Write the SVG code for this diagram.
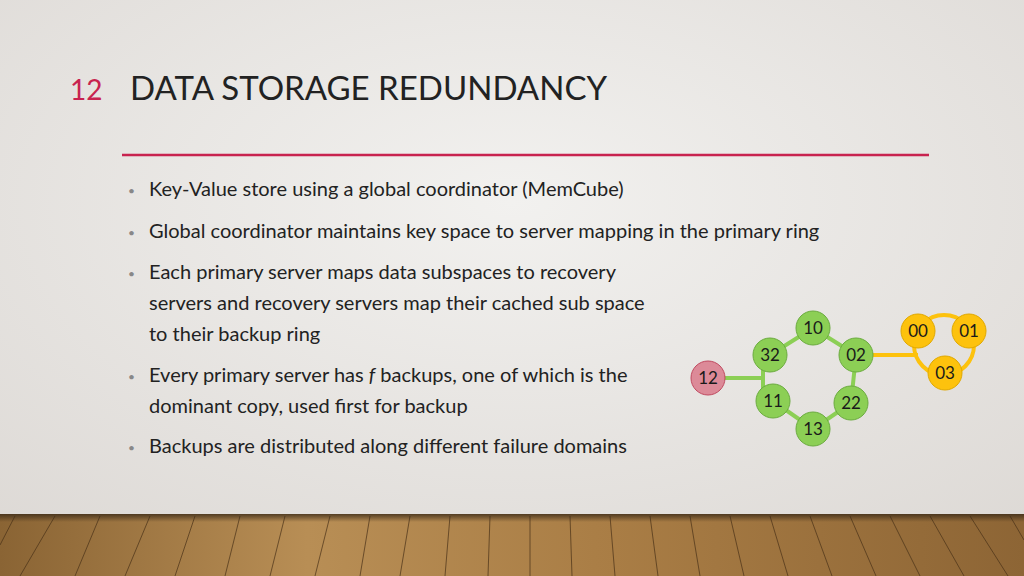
<svg xmlns="http://www.w3.org/2000/svg" width="1024" height="576" viewBox="0 0 1024 576">
<defs>
<radialGradient id="bg" cx="0.5" cy="0.35" r="0.8"><stop offset="0" stop-color="#f2f1ef"/><stop offset="1" stop-color="#dcd8d4"/></radialGradient>
<linearGradient id="wood" x1="0" y1="0" x2="1" y2="0"><stop offset="0" stop-color="#8a6434"/><stop offset="0.3" stop-color="#b88e55"/><stop offset="0.6" stop-color="#a97d45"/><stop offset="1" stop-color="#8d6535"/></linearGradient>
<linearGradient id="sh" x1="0" y1="0" x2="0" y2="1"><stop offset="0" stop-color="#3a2a18" stop-opacity="0.8"/><stop offset="1" stop-color="#3a2a18" stop-opacity="0"/></linearGradient>
<style>
.t{font-family:"Gill Sans","Lato","Liberation Sans",sans-serif;fill:#222}
.b{font-size:20px}
.bul{fill:#888;font-size:12px}
.g{fill:#8ccf55;stroke:#6bab3f;stroke-width:1}
.y{fill:#fdc20d;stroke:#e0a800;stroke-width:1}
.p{fill:#dc8a98;stroke:#c04a60;stroke-width:1}
.n{font-family:"Lato","Liberation Sans",sans-serif;font-size:17px;fill:#1a1a1a;text-anchor:middle}
.gl{stroke:#8ccf55;stroke-width:4;fill:none}
.yl{stroke:#fdc20d;stroke-width:4;fill:none}
</style>
</defs>
<rect width="1024" height="576" fill="url(#bg)"/>
<rect y="514" width="1024" height="62" fill="url(#wood)"/>
<g stroke="#4a3218" stroke-width="1" opacity="0.7">
<path d="M15 516 L0 545 M55 516 L20 576 M100 516 L75 576 M150 516 L125 576 M195 516 L175 576 M240 516 L225 576 M285 516 L270 576 M330 516 L315 576 M370 516 L360 576 M410 516 L400 576 M450 516 L445 576 M490 516 L488 576 M530 516 L530 576 M570 516 L572 576 M610 516 L615 576 M650 516 L658 576 M690 516 L700 576 M730 516 L744 576 M770 516 L788 576 M810 516 L832 576 M850 516 L876 576 M890 516 L920 576 M930 516 L964 576 M970 516 L1008 576 M1010 516 L1024 540"/>
</g>
<rect y="514" width="1024" height="8" fill="url(#sh)"/>
<text class="t" x="70" y="100" font-size="28" style="fill:#c8234f">12</text>
<text class="t" x="130" y="100" font-size="33">DATA STORAGE REDUNDANCY</text>
<line x1="122" y1="155" x2="929" y2="155" stroke="#c8234f" stroke-width="2.5"/>
<g>
<text x="128" y="195" class="t bul">•</text><text x="149" y="196" class="t b">Key-Value store using a global coordinator (MemCube)</text>
<text x="128" y="237" class="t bul">•</text><text x="149" y="238" class="t b">Global coordinator maintains key space to server mapping in the primary ring</text>
<text x="128" y="278" class="t bul">•</text><text x="149" y="279" class="t b">Each primary server maps data subspaces to recovery</text>
<text x="149" y="310" class="t b">servers and recovery servers map their cached sub space</text>
<text x="149" y="341" class="t b">to their backup ring</text>
<text x="128" y="381" class="t bul">•</text><text x="149" y="382" class="t b">Every primary server has <tspan font-style="italic">f</tspan> backups, one of which is the</text>
<text x="149" y="413" class="t b">dominant copy, used first for backup</text>
<text x="128" y="452" class="t bul">•</text><text x="149" y="453" class="t b">Backups are distributed along different failure domains</text>
</g>
<g id="connectors">
<path class="gl" d="M813 328 L770 355 M813 328 L856 355 M763 355 L763 401 M856 355 L851 403 M773 401 L813 429 L851 403 M708 378 L763 378"/>
<path class="yl" d="M856 355 L918 355"/>
<circle class="yl" cx="944" cy="345" r="30"/>
</g>
<g id="n10"><circle class="g" cx="813" cy="328" r="17"/><text class="n" x="813" y="334">10</text></g>
<g id="n32"><circle class="g" cx="770" cy="355" r="17"/><text class="n" x="770" y="361">32</text></g>
<g id="n02"><circle class="g" cx="856" cy="355" r="17"/><text class="n" x="856" y="361">02</text></g>
<g id="n12"><circle class="p" cx="708" cy="378" r="17"/><text class="n" x="708" y="384">12</text></g>
<g id="n11"><circle class="g" cx="773" cy="401" r="17"/><text class="n" x="773" y="407">11</text></g>
<g id="n22"><circle class="g" cx="851" cy="403" r="17"/><text class="n" x="851" y="409">22</text></g>
<g id="n13"><circle class="g" cx="813" cy="429" r="17"/><text class="n" x="813" y="435">13</text></g>
<g id="n00"><circle class="y" cx="918" cy="331" r="17"/><text class="n" x="918" y="337">00</text></g>
<g id="n01"><circle class="y" cx="969" cy="331" r="17"/><text class="n" x="969" y="337">01</text></g>
<g id="n03"><circle class="y" cx="945" cy="373" r="17"/><text class="n" x="945" y="379">03</text></g>
</svg>
